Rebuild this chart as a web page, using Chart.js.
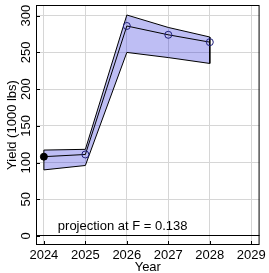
<!DOCTYPE html>
<html>
<head>
<meta charset="utf-8">
<script src="https://cdn.jsdelivr.net/npm/chart.js@4.4.0/dist/chart.umd.min.js"></script>
<style>
  html, body { margin: 0; padding: 0; background: #fff; }
  #wrap { width: 269px; height: 273px; }
</style>
</head>
<body>
<div id="wrap"><canvas id="yieldChart"></canvas></div>
<script>
// projection data
const years = [2024, 2025, 2026, 2027, 2028];
const yieldMid = [108, 111, 286, 274, 264];
const yieldUpper = [117, 118, 301, 284, 271];
const yieldLower = [90, 96, 250, 243, 235];

const xTicks = [2024, 2025, 2026, 2027, 2028, 2029];
const yTicks = [0, 50, 100, 150, 200, 250, 300];
const noteText = 'projection at F = 0.138';

const FONT = "'Liberation Sans', Arial, sans-serif";
Chart.defaults.font.family = FONT;
Chart.defaults.font.size = 13;
Chart.defaults.color = '#000';

const toPts = (arr) => years.map((yr, i) => ({ x: yr, y: arr[i] }));

// closed outline of the band (upper forward, lower back)
const bandOutline = toPts(yieldUpper).concat(toPts(yieldLower).reverse());
bandOutline.push(bandOutline[0]);

// frame, inward ticks, rotated y labels, note text
const decorPlugin = {
    id: 'decor',
    afterDraw(chart) {
        const { ctx, chartArea: a, scales } = chart;
        const xs = scales.x, ys = scales.y;
        ctx.save();
        ctx.strokeStyle = '#000';
        ctx.lineWidth = 1;
        ctx.strokeRect(a.left + 0.5, a.top + 0.5, a.right - a.left - 1, a.bottom - a.top - 1);

        ctx.beginPath();
        xTicks.forEach(v => {
            const px = Math.round(xs.getPixelForValue(v)) + 0.5;
            ctx.moveTo(px, a.bottom);
            ctx.lineTo(px, a.bottom - 4);
        });
        yTicks.forEach(v => {
            const py = Math.round(ys.getPixelForValue(v)) + 0.5;
            ctx.moveTo(a.left, py);
            ctx.lineTo(a.left + 4, py);
        });
        ctx.stroke();

        ctx.fillStyle = '#000';
        ctx.font = '13px ' + FONT;
        ctx.textAlign = 'center';
        ctx.textBaseline = 'middle';
        yTicks.forEach(v => {
            ctx.save();
            ctx.translate(26, ys.getPixelForValue(v));
            ctx.rotate(-Math.PI / 2);
            ctx.fillText(String(v), 0, 0);
            ctx.restore();
        });

        ctx.textBaseline = 'alphabetic';
        ctx.fillText(noteText, xs.getPixelForValue(2025.9), ys.getPixelForValue(8));
        ctx.restore();
    }
};

new Chart(document.getElementById('yieldChart'), {
    type: 'line',
    data: {
        datasets: [
            {
                label: 'upper',
                data: toPts(yieldUpper),
                borderWidth: 0,
                pointRadius: 0,
                backgroundColor: 'rgba(20, 20, 215, 0.28)',
                fill: '+1',
                order: 3
            },
            {
                label: 'lower',
                data: toPts(yieldLower),
                borderWidth: 0,
                pointRadius: 0,
                fill: false,
                order: 3
            },
            {
                label: 'band',
                data: bandOutline,
                borderColor: '#000',
                borderWidth: 1,
                pointRadius: 0,
                fill: false,
                order: 2
            },
            {
                label: 'Yield',
                data: toPts(yieldMid),
                borderColor: '#000',
                borderWidth: 1,
                pointRadius: 3.5,
                pointBorderWidth: 1,
                pointBorderColor: (c) => c.dataIndex === 0 ? '#000' : '#1c1c78',
                pointBackgroundColor: (c) => c.dataIndex === 0 ? '#000' : 'rgba(0,0,0,0)',
                fill: false,
                order: 1
            }
        ]
    },
    options: {
        responsive: true,
        maintainAspectRatio: false,
        animation: false,
        layout: { padding: { top: 5, right: 7, left: 0, bottom: 0 } },
        plugins: {
            legend: { display: false },
            tooltip: { enabled: false }
        },
        scales: {
            x: {
                type: 'linear',
                min: 2023.81,
                max: 2029.2,
                afterBuildTicks: (s) => { s.ticks = xTicks.map(v => ({ value: v })); },
                afterFit: (s) => { s.height = 28; },
                border: { display: false },
                grid: { color: '#d6d6d6', drawTicks: false },
                ticks: {
                    padding: 3,
                    maxRotation: 0,
                    callback: (v) => String(v)
                },
                title: {
                    display: true,
                    text: 'Year',
                    padding: { top: 0, bottom: -2 }
                }
            },
            y: {
                type: 'linear',
                min: -12.3,
                max: 314.6,
                afterBuildTicks: (s) => { s.ticks = yTicks.map(v => ({ value: v })); },
                afterFit: (s) => { s.width = 36; },
                border: { display: false },
                grid: {
                    drawTicks: false,
                    color: (c) => c.tick && c.tick.value === 0 ? '#000' : '#d6d6d6'
                },
                ticks: { display: false },
                title: {
                    display: true,
                    text: 'Yield (1000 lbs)',
                    padding: { top: 5, bottom: 0 }
                }
            }
        }
    },
    plugins: [decorPlugin]
});
</script>
</body>
</html>
